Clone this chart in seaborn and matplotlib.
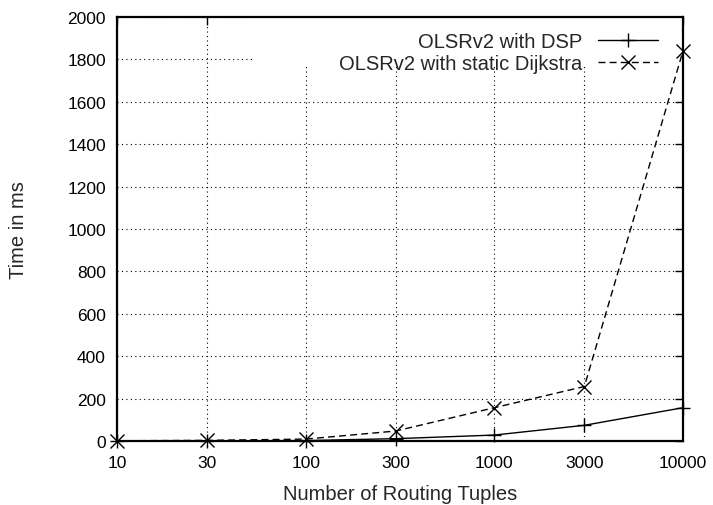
import pandas as pd
import matplotlib
matplotlib.use("Agg")
import matplotlib.pyplot as plt
from matplotlib.patches import Rectangle
import seaborn as sns

# values
tuples = [10, 30, 100, 300, 1000, 3000, 10000]
dsp_ms = [0.5, 1, 2, 11, 28, 74, 157]
dijkstra_ms = [1, 3, 9, 47, 157, 257, 1840]
x_ticks = [10, 30, 100, 300, 1000, 3000, 10000]
y_ticks = list(range(0, 2001, 200))

df = pd.DataFrame({"tuples": tuples, "dsp": dsp_ms, "dijkstra": dijkstra_ms})

sns.set_style("white")
plt.rcParams["font.family"] = ["Liberation Sans", "DejaVu Sans"]
plt.rcParams["font.size"] = 12.5

fig = plt.figure(figsize=(7.13, 5.06), dpi=100)
ax = fig.add_axes([117 / 713, 1 - 442 / 506, 566 / 713, 424 / 506])

sns.lineplot(data=df, x="tuples", y="dsp", ax=ax, color="black", lw=1.0,
             marker="+", markersize=10, markeredgewidth=1.0,
             markeredgecolor="black", label="OLSRv2 with DSP", zorder=3,
             clip_on=False)
sns.lineplot(data=df, x="tuples", y="dijkstra", ax=ax, color="black", lw=1.0,
             linestyle=(0, (5, 3)), marker="x", markersize=10.5, markeredgewidth=1.0,
             markeredgecolor="black", label="OLSRv2 with static Dijkstra", zorder=3,
             clip_on=False)

ax.set_xscale("log")
ax.set_xlim(10, 10000)
ax.set_ylim(0, 2000)
ax.set_xticks(x_ticks)
ax.set_xticklabels([str(t) for t in x_ticks])
ax.minorticks_off()
ax.set_yticks(y_ticks)
ax.tick_params(direction="in", top=True, right=True, length=6, width=1,
               labelsize=12.5, colors="black")
ax.tick_params(axis="x", pad=10)
ax.tick_params(axis="y", pad=8)
ax.grid(True, linestyle=(0, (1, 3)), color="black", lw=0.8)
for s in ax.spines.values():
    s.set_linewidth(1.6)
    s.set_color("black")

ax.set_xlabel("Number of Routing Tuples", fontsize=14.5, labelpad=10)
ax.set_ylabel("Time in ms", fontsize=14.5, labelpad=28)

# white key area that hides the grid, like gnuplot does
ax.add_patch(Rectangle((0.240, 0.884), 0.760, 0.116, transform=ax.transAxes,
                       facecolor="white", edgecolor="none", zorder=1))

leg = ax.legend(loc="upper right", bbox_to_anchor=(0.956, 0.965),
                markerfirst=False, frameon=False, borderaxespad=0,
                borderpad=0, handlelength=3.0, handletextpad=0.75,
                labelspacing=0.15, fontsize=14.5)
leg._legend_box.align = "right"
leg.set_zorder(4)

fig.savefig("out.png", dpi=100)
